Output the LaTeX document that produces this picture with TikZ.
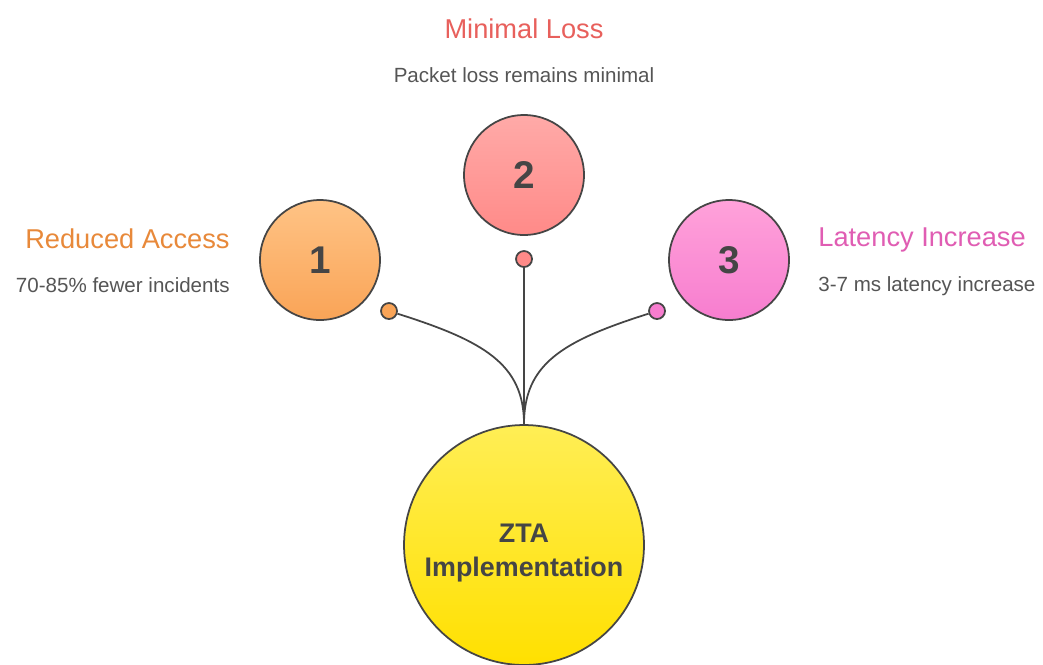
\documentclass[tikz,border=0pt]{standalone}
\usepackage{fontspec}
\setmainfont{Liberation Sans}
\definecolor{inkgray}{HTML}{454545}
\definecolor{txtgray}{HTML}{555555}
\definecolor{orangeA}{HTML}{FFC385}
\definecolor{orangeB}{HTML}{F9A457}
\definecolor{redA}{HTML}{FFAAA8}
\definecolor{redB}{HTML}{FF8A88}
\definecolor{pinkA}{HTML}{FFA2DA}
\definecolor{pinkB}{HTML}{F77DCF}
\definecolor{yellowA}{HTML}{FFEE55}
\definecolor{yellowB}{HTML}{FFE000}
\definecolor{orangeT}{HTML}{E8893A}
\definecolor{redT}{HTML}{E8605C}
\definecolor{pinkT}{HTML}{E05DB3}
\tikzset{
  numcircle/.style={circle,draw=inkgray,line width=1pt,minimum size=2.4cm,
    inner sep=0pt,font=\fontsize{22}{22}\selectfont\bfseries,text=inkgray},
  dotnode/.style={circle,draw=inkgray,line width=1pt,minimum size=0.32cm,inner sep=0pt},
  titletext/.style={inner sep=0pt,font=\fontsize{15.5}{17}\selectfont},
  desctext/.style={inner sep=0pt,font=\fontsize{11.7}{14}\selectfont,text=txtgray},
  link/.style={draw=inkgray,line width=1pt}
}
\begin{document}
\begin{tikzpicture}[x=0.02cm,y=-0.02cm]
        \clip (0,0) rectangle (1043,664);
        \fill[white] (0,0) rectangle (1043,664);

        % center
        \node[circle,draw=inkgray,line width=1pt,minimum size=4.8cm,inner sep=0pt,
          top color=yellowA,bottom color=yellowB] (zta) at (524,545) {};
        \node[text=inkgray,align=center,font=\fontsize{15.3}{19}\selectfont\bfseries]
          (ztatext) at (524,553) {ZTA\\Implementation};

        \begin{scope}[every node/.style={numcircle}]
          \node[top color=orangeA,bottom color=orangeB] (c1) at (320,260) {1};
          \node[top color=redA,bottom color=redB]       (c2) at (524,175) {2};
          \node[top color=pinkA,bottom color=pinkB]     (c3) at (729,260) {3};
        \end{scope}

        \begin{scope}[every node/.style={dotnode}]
          \node[fill=orangeB] (d1) at (389,311) {};
          \node[fill=redB]    (d2) at (524,259) {};
          \node[fill=pinkB]   (d3) at (657,311) {};
        \end{scope}

        \path[link] (d1) .. controls +(95,30) and +(0,-60) .. (zta.north);
        \path[link] (d2) -- (zta.north);
        \path[link] (d3) .. controls +(-95,30) and +(0,-60) .. (zta.north);

        % labels
        \node[titletext,text=orangeT,anchor=east] (t1) at (230,239) {Reduced Access};
        \node[desctext,anchor=east] (s1) at (230,285) {70-85\% fewer incidents};
        \node[titletext,text=redT] (t2) at (524,29) {Minimal Loss};
        \node[desctext] (s2) at (524,75) {Packet loss remains minimal};
        \node[titletext,text=pinkT,anchor=west] (t3) at (818,240) {Latency Increase};
        \node[desctext,anchor=west] (s3) at (818,286) {3-7 ms latency increase};

      \end{tikzpicture}
\end{document}
